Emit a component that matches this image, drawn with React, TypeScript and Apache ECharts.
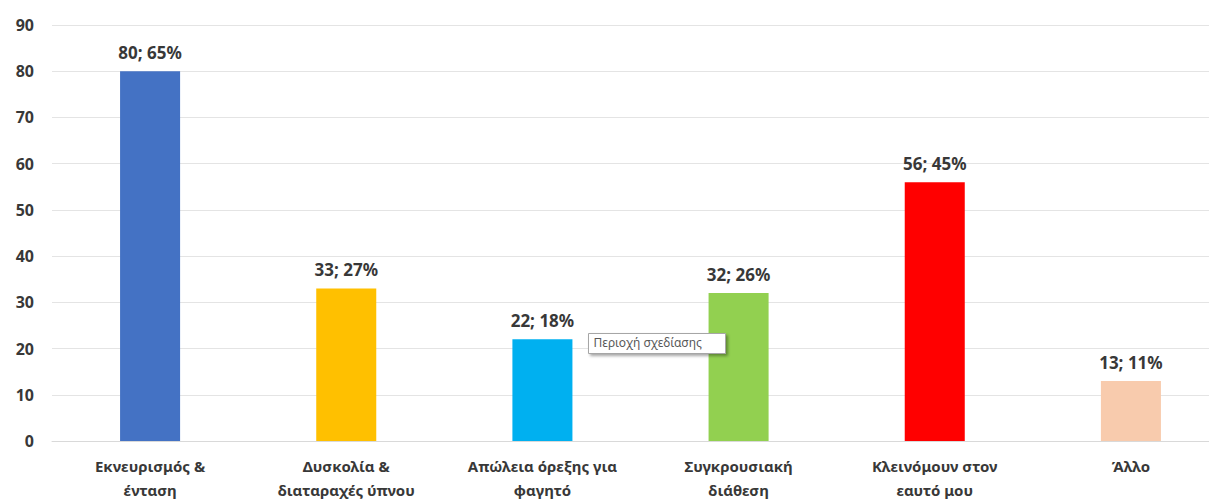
import React, { useEffect, useRef } from "react";
import * as echarts from "echarts";

const categories = [
  "Εκνευρισμός &\nένταση",
  "Δυσκολία &\nδιαταραχές ύπνου",
  "Απώλεια όρεξης για\nφαγητό",
  "Συγκρουσιακή\nδιάθεση",
  "Κλεινόμουν στον\nεαυτό μου",
  "Άλλο",
];
const values = [80, 33, 22, 32, 56, 13];
const percents = ["65%", "27%", "18%", "26%", "45%", "11%"];
const colors = ["#4472C4", "#FFC000", "#00B0F0", "#92D050", "#FF0000", "#F8CBAD"];
const yTicks = [0, 10, 20, 30, 40, 50, 60, 70, 80, 90];

export default function App() {
  const ref = useRef<HTMLDivElement>(null);
  useEffect(() => {
    if (!ref.current) return;
    document.documentElement.style.overflow = "hidden";
    document.body.style.overflow = "hidden";
    const chart = echarts.init(ref.current, undefined, { renderer: "svg" });
    const font = "'Noto Sans', sans-serif";
    chart.setOption({
      animation: false,
      backgroundColor: "#ffffff",
      grid: { left: 44, right: 4, top: 17, bottom: 63, containLabel: false },
      xAxis: {
        type: "category",
        data: categories,
        axisLine: { show: true, lineStyle: { color: "#d9d9d9", width: 1 } },
        axisTick: { show: false },
        axisLabel: {
          color: "#383838",
          fontFamily: font,
          fontWeight: "bold",
          fontSize: 15,
          lineHeight: 24,
          margin: 13,
          interval: 0,
        },
      },
      yAxis: {
        type: "value",
        min: yTicks[0],
        max: yTicks[yTicks.length - 1],
        interval: 10,
        axisLine: { show: false },
        axisTick: { show: false },
        splitLine: { lineStyle: { color: "#e4e4e4", width: 1 } },
        axisLabel: {
          color: "#383838",
          fontFamily: font,
          fontWeight: "bold",
          fontSize: 16,
          margin: 18,
        },
      },
      series: [
        {
          type: "bar",
          barWidth: "30.6%",
          data: values.map((v, i) => ({ value: v, itemStyle: { color: colors[i] } })),
          label: {
            show: true,
            position: "top",
            distance: 10,
            color: "#383838",
            fontFamily: font,
            fontWeight: "bold",
            fontSize: 17,
            formatter: (p: any) => `${p.value}; ${percents[p.dataIndex]}`,
          },
        },
      ],
      graphic: [
        {
          type: "group",
          left: 580,
          top: 325,
          z: 100,
          children: [
            {
              type: "rect",
              z: 100,
              shape: { x: 0, y: 0, width: 137, height: 20 },
              style: {
                fill: "#ffffff",
                stroke: "#a6a6a6",
                lineWidth: 1,
                shadowBlur: 3,
                shadowOffsetX: 2,
                shadowOffsetY: 2,
                shadowColor: "rgba(0,0,0,0.35)",
              },
            },
            {
              type: "text",
              z: 101,
              x: 5,
              y: 3,
              style: {
                text: "Περιοχή σχεδίασης",
                fill: "#595959",
                font: "12px 'Noto Sans', sans-serif",
              },
            },
          ],
        },
      ],
    });
    return () => chart.dispose();
  }, []);
  return <div ref={ref} style={{ width: 1225, height: 496 }} />;
}
